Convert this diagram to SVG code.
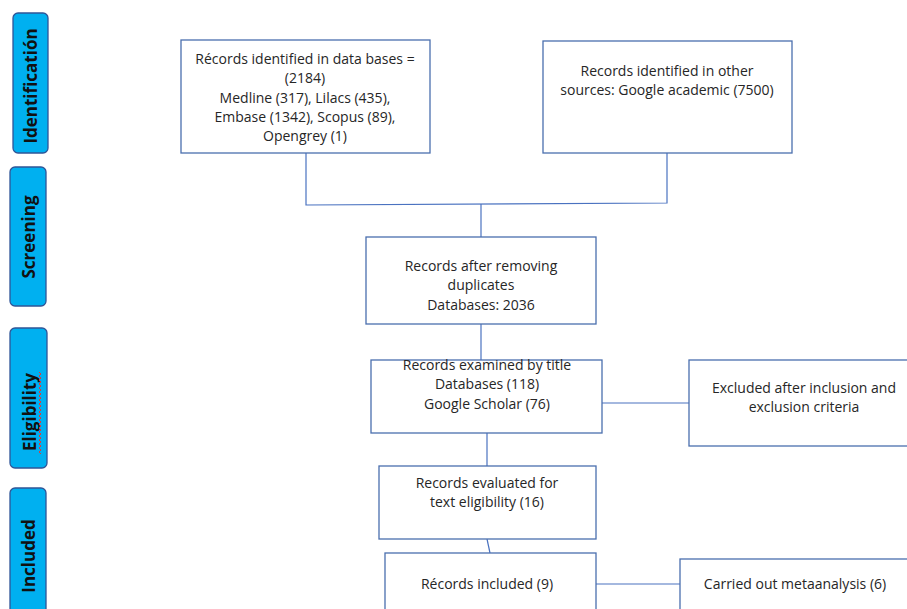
<svg xmlns="http://www.w3.org/2000/svg" width="907" height="609" viewBox="0 0 907 609">
<style>
.box{fill:#fff;stroke:#4a6fae;stroke-width:1.3}
.bar{fill:#00b0f0;stroke:#2f5597;stroke-width:1.3}
.t{font-family:"Open Sans","Liberation Sans",sans-serif;font-size:14px;fill:#262626;text-anchor:middle}
.s{font-family:"Open Sans","Liberation Sans",sans-serif;font-size:17px;font-weight:bold;fill:#111;text-anchor:middle}
.c{fill:none;stroke:#4a72c0;stroke-width:1.2}
</style>
<rect width="907" height="609" fill="#fff"/>
<g id="stage-identification"><rect class="bar" x="13" y="13" width="35" height="140" rx="5"/><text class="s" transform="translate(37,86) rotate(-90)">Identificatión</text></g>
<g id="stage-screening"><rect class="bar" x="10" y="167" width="36" height="139" rx="5"/><text class="s" transform="translate(35,237) rotate(-90)">Screening</text></g>
<g id="stage-eligibility"><rect class="bar" x="10" y="328" width="37" height="140" rx="5"/><text class="s" transform="translate(36,412) rotate(-90)">Eligibility</text><path d="M39,372 l2,2 l-2,2 l2,2 l-2,2 l2,2 l-2,2 l2,2 l-2,2 l2,2 l-2,2 l2,2 l-2,2 l2,2 l-2,2 l2,2 l-2,2 l2,2 l-2,2 l2,2 l-2,2 l2,2 l-2,2 l2,2 l-2,2 l2,2 l-2,2 l2,2 l-2,2 l2,2 l-2,2 l2,2 l-2,2 l2,2 l-2,2 l2,2 l-2,2 l2,2 l-2,2 l2,2 l-2,2 l2,2" fill="none" stroke="#d04040" stroke-width="1"/></g>
<g id="stage-included"><rect class="bar" x="10" y="488" width="36" height="130" rx="5"/><text class="s" transform="translate(35,556) rotate(-90)">Included</text></g>
<g id="connectors">
<path class="c" d="M306,153 V205 L667,203 V153"/>
<path class="c" d="M481,204 V237"/>
<path class="c" d="M481,324 V360"/>
<path class="c" d="M602,403 H689"/>
<path class="c" d="M487,433 V466"/>
<path class="c" d="M487,539 L490,553"/>
<path class="c" d="M596,584 H680"/>
</g>
<g id="n1"><rect class="box" x="181" y="40" width="249" height="113"/>
<text class="t" x="305" y="64">Récords identified in data bases =</text>
<text class="t" x="305" y="83">(2184)</text>
<text class="t" x="305" y="103">Medline (317), Lilacs (435),</text>
<text class="t" x="305" y="122">Embase (1342), Scopus (89),</text>
<text class="t" x="305" y="141">Opengrey (1)</text></g>
<g id="n2"><rect class="box" x="543" y="41" width="249" height="112"/>
<text class="t" x="667" y="76">Records identified in other</text>
<text class="t" x="667" y="95">sources: Google academic (7500)</text></g>
<g id="n3"><rect class="box" x="366" y="237" width="230" height="87"/>
<text class="t" x="481" y="271">Records after removing</text>
<text class="t" x="481" y="290">duplicates</text>
<text class="t" x="481" y="310">Databases: 2036</text></g>
<g id="n4"><rect class="box" x="371" y="360" width="231" height="73"/>
<text class="t" x="487" y="370">Records examined by title</text>
<text class="t" x="487" y="389">Databases (118)</text>
<text class="t" x="487" y="409">Google Scholar (76)</text></g>
<g id="n5"><rect class="box" x="689" y="360" width="230" height="86"/>
<text class="t" x="804" y="393">Excluded after inclusion and</text>
<text class="t" x="804" y="412">exclusion criteria</text></g>
<g id="n6"><rect class="box" x="379" y="466" width="217" height="73"/>
<text class="t" x="487" y="488">Records evaluated for</text>
<text class="t" x="487" y="507">text eligibility (16)</text></g>
<g id="n7"><rect class="box" x="385" y="553" width="211" height="70"/>
<text class="t" x="487" y="589">Récords included (9)</text></g>
<g id="n8"><rect class="box" x="680" y="559" width="240" height="64"/>
<text class="t" x="795" y="589">Carried out metaanalysis (6)</text></g>
</svg>
